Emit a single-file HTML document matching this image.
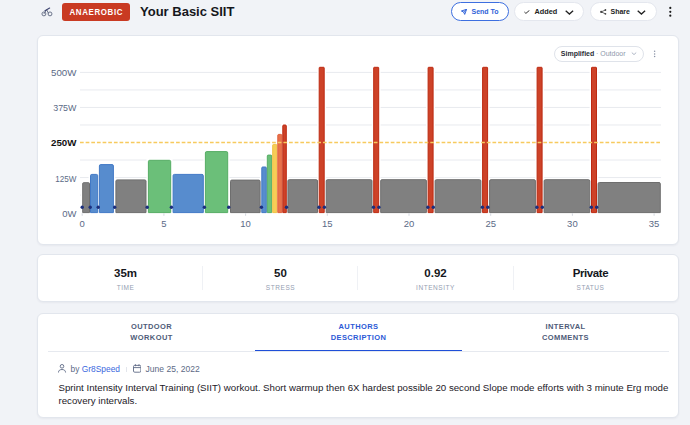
<!DOCTYPE html>
<html><head><meta charset="utf-8">
<style>
*{box-sizing:border-box;margin:0;padding:0}
html,body{width:690px;height:425px;overflow:hidden}
body{background:#f1f3f7;font-family:"Liberation Sans",sans-serif;position:relative;color:#1a1d24}
.abs{position:absolute}
.card{position:absolute;background:#fff;border:1px solid #e2e6ed;border-radius:6px;box-shadow:0 1px 2px rgba(30,40,70,.05)}
.badge{left:62px;top:3px;width:68px;height:18px;background:#c93a22;border-radius:3px;color:#fff;font-weight:bold;font-size:7.9px;letter-spacing:.65px;text-align:center;line-height:20.2px;padding-left:.65px}
.title{left:140px;top:4px;font-size:13px;font-weight:bold;color:#15171c;line-height:16px}
.btn{position:absolute;top:2px;height:19px;border-radius:10px;background:#fff;border:1px solid #e4e7ee;font-weight:bold;font-size:7px;line-height:17px;color:#222}
.btn span{position:absolute;top:0}
.send{left:451px;width:58px;border-color:#3d6fe0;color:#2f62d8}
.added{left:514px;width:70px}
.share{left:590px;width:67px}
.stat{position:absolute;top:0;width:155px;text-align:center}
.stat .v{position:absolute;left:0;right:0;top:11.5px;font-size:11.5px;font-weight:bold;color:#15171c}
.stat .l{position:absolute;left:0;right:0;top:29px;font-size:6.5px;letter-spacing:.55px;color:#959eb2}
.div{position:absolute;top:11px;width:1px;height:24px;background:#eff1f5}
.tab{position:absolute;top:0;width:207px;text-align:center;font-size:7.5px;font-weight:bold;letter-spacing:.4px;line-height:11px;color:#4e5b78;padding-top:6.8px}
</style></head><body>

<!-- header -->
<svg class="abs" style="left:40px;top:6px" width="14" height="12" viewBox="0 0 14 12">
 <g fill="none" stroke="#646d85" stroke-width="0.95">
  <circle cx="3.9" cy="7.9" r="1.95"/><circle cx="10" cy="7.9" r="1.95"/>
  <path d="M6.6 3.6 L8.6 7.6 M3.9 7.9 L6.3 4.1"/>
 </g>
 <path d="M5.0 4.7 L9.6 2.1" stroke="#3e4470" stroke-width="1.2" stroke-linecap="round" fill="none"/>
</svg>
<div class="abs badge"><span style="display:inline-block;transform:scaleY(1.13);transform-origin:50% 58%">ANAEROBIC</span></div>
<div class="abs title">Your Basic SIIT</div>

<div class="btn send">
 <svg class="abs" style="left:8.5px;top:5.6px" width="7" height="6" viewBox="0 0 7 6"><path d="M0.4 2.0 L5.6 0.3 L3.7 5.4 L2.7 3.0 Z M2.7 3.0 L5.6 0.3" fill="none" stroke="#2f62d8" stroke-width="1" stroke-linejoin="round"/></svg>
 <span style="left:19.5px">Send To</span>
</div>
<div class="btn added">
 <svg class="abs" style="left:9.2px;top:6.6px" width="6" height="4" viewBox="0 0 6 4"><path d="M0.4 2.0 L1.9 3.4 L5.4 0.4" fill="none" stroke="#333" stroke-width="1"/></svg>
 <span style="left:19.5px;font-size:7.3px">Added</span>
 <svg class="abs" style="left:49.5px;top:6.7px" width="9" height="5" viewBox="0 0 9 5"><path d="M0.7 0.7 L4.4 4.1 L8.1 0.7" fill="none" stroke="#222" stroke-width="1.3"/></svg>
</div>
<div class="btn share">
 <svg class="abs" style="left:8.5px;top:5.6px" width="7" height="6" viewBox="0 0 7 6"><g fill="#444"><circle cx="1.2" cy="2.9" r="1.1"/><circle cx="5.4" cy="1" r="0.9"/><circle cx="5.4" cy="4.8" r="0.9"/></g><path d="M1.2 2.9 L5.4 1 M1.2 2.9 L5.4 4.8" stroke="#444" stroke-width=".8"/></svg>
 <span style="left:19.5px">Share</span>
 <svg class="abs" style="left:46.2px;top:6.7px" width="9" height="5" viewBox="0 0 9 5"><path d="M0.7 0.7 L4.4 4.1 L8.1 0.7" fill="none" stroke="#222" stroke-width="1.3"/></svg>
</div>
<svg class="abs" style="left:668px;top:6px" width="4" height="11" viewBox="0 0 4 11"><g fill="#1a1a1a"><circle cx="2.3" cy="1.9" r="1.1"/><circle cx="2.3" cy="5.8" r="1.1"/><circle cx="2.3" cy="9.7" r="1.1"/></g></svg>

<!-- chart card -->
<div class="card" style="left:37px;top:35px;width:642px;height:210px"></div>
<svg class="abs" style="left:0;top:0" width="690" height="425" viewBox="0 0 690 425" id="chart">
<line x1="80" x2="661" y1="72.4" y2="72.4" stroke="#e8eaef" stroke-width="1"/>
<line x1="80" x2="661" y1="89.92500000000001" y2="89.92500000000001" stroke="#e8eaef" stroke-width="1"/>
<line x1="80" x2="661" y1="107.45" y2="107.45" stroke="#e8eaef" stroke-width="1"/>
<line x1="80" x2="661" y1="124.975" y2="124.975" stroke="#e8eaef" stroke-width="1"/>
<line x1="80" x2="661" y1="160.025" y2="160.025" stroke="#e8eaef" stroke-width="1"/>
<line x1="80" x2="661" y1="177.55" y2="177.55" stroke="#e8eaef" stroke-width="1"/>
<line x1="80" x2="661" y1="195.075" y2="195.075" stroke="#e8eaef" stroke-width="1"/>
<rect x="80.8" y="180.8" width="10.6" height="31.8" fill="#fff"/>
<rect x="88.6" y="172.5" width="11.0" height="40.1" fill="#fff"/>
<rect x="97.5" y="162.7" width="17.8" height="49.9" fill="#fff"/>
<rect x="114.0" y="178.0" width="33.9" height="34.6" fill="#fff"/>
<rect x="146.5" y="158.4" width="26.1" height="54.2" fill="#fff"/>
<rect x="171.2" y="172.5" width="34.0" height="40.1" fill="#fff"/>
<rect x="203.5" y="149.7" width="26.1" height="62.9" fill="#fff"/>
<rect x="228.6" y="178.2" width="33.4" height="34.4" fill="#fff"/>
<rect x="259.9" y="165.1" width="8.3" height="47.5" fill="#fff"/>
<rect x="265.4" y="153.2" width="8.2" height="59.4" fill="#fff"/>
<rect x="270.8" y="142.5" width="7.9" height="70.1" fill="#fff"/>
<rect x="275.9" y="132.5" width="7.8" height="80.1" fill="#fff"/>
<rect x="280.9" y="123.1" width="7.3" height="89.5" fill="#fff"/>
<rect x="286.0" y="177.8" width="33.4" height="34.8" fill="#fff"/>
<rect x="317.3" y="65.4" width="8.8" height="147.2" fill="#fff"/>
<rect x="324.3" y="177.8" width="49.6" height="34.8" fill="#fff"/>
<rect x="371.8" y="65.4" width="8.8" height="147.2" fill="#fff"/>
<rect x="378.8" y="177.8" width="49.5" height="34.8" fill="#fff"/>
<rect x="426.2" y="65.4" width="8.8" height="147.2" fill="#fff"/>
<rect x="433.2" y="177.8" width="49.6" height="34.8" fill="#fff"/>
<rect x="480.7" y="65.4" width="8.8" height="147.2" fill="#fff"/>
<rect x="487.7" y="177.8" width="49.6" height="34.8" fill="#fff"/>
<rect x="535.2" y="65.4" width="8.8" height="147.2" fill="#fff"/>
<rect x="542.2" y="177.8" width="49.5" height="34.8" fill="#fff"/>
<rect x="589.6" y="65.4" width="8.8" height="147.2" fill="#fff"/>
<rect x="596.2" y="180.6" width="66.0" height="32.0" fill="#fff"/>
<path d="M82.70 212.6 V183.60 Q82.70 182.70 83.60 182.70 H88.60 Q89.50 182.70 89.50 183.60 V212.6 Z" fill="#808080" stroke="#6e6e6e" stroke-width="1"/>
<path d="M90.50 212.6 V175.70 Q90.50 174.40 91.80 174.40 H96.40 Q97.70 174.40 97.70 175.70 V212.6 Z" fill="#578cce" stroke="#4279c6" stroke-width="1"/>
<path d="M99.40 212.6 V165.90 Q99.40 164.60 100.70 164.60 H112.10 Q113.40 164.60 113.40 165.90 V212.6 Z" fill="#578cce" stroke="#4279c6" stroke-width="1"/>
<path d="M115.90 212.6 V181.20 Q115.90 179.90 117.20 179.90 H144.70 Q146.00 179.90 146.00 181.20 V212.6 Z" fill="#808080" stroke="#6e6e6e" stroke-width="1"/>
<path d="M148.40 212.6 V161.60 Q148.40 160.30 149.70 160.30 H169.40 Q170.70 160.30 170.70 161.60 V212.6 Z" fill="#6bbf79" stroke="#55ad64" stroke-width="1"/>
<path d="M173.10 212.6 V175.70 Q173.10 174.40 174.40 174.40 H202.00 Q203.30 174.40 203.30 175.70 V212.6 Z" fill="#578cce" stroke="#4279c6" stroke-width="1"/>
<path d="M205.40 212.6 V152.90 Q205.40 151.60 206.70 151.60 H226.40 Q227.70 151.60 227.70 152.90 V212.6 Z" fill="#6bbf79" stroke="#55ad64" stroke-width="1"/>
<path d="M230.50 212.6 V181.40 Q230.50 180.10 231.80 180.10 H258.80 Q260.10 180.10 260.10 181.40 V212.6 Z" fill="#808080" stroke="#6e6e6e" stroke-width="1"/>
<path d="M261.80 212.6 V167.90 Q261.80 167.00 262.70 167.00 H265.40 Q266.30 167.00 266.30 167.90 V212.6 Z" fill="#578cce" stroke="#4279c6" stroke-width="1"/>
<path d="M267.30 212.6 V156.00 Q267.30 155.10 268.20 155.10 H270.80 Q271.70 155.10 271.70 156.00 V212.6 Z" fill="#6bbf79" stroke="#55ad64" stroke-width="1"/>
<path d="M272.70 212.6 V145.30 Q272.70 144.40 273.60 144.40 H275.90 Q276.80 144.40 276.80 145.30 V212.6 Z" fill="#f7cd57" stroke="#f0c243" stroke-width="1"/>
<path d="M277.80 212.6 V135.30 Q277.80 134.40 278.70 134.40 H280.90 Q281.80 134.40 281.80 135.30 V212.6 Z" fill="#e8704a" stroke="#e0603a" stroke-width="1"/>
<path d="M282.80 212.6 V125.90 Q282.80 125.00 283.70 125.00 H285.40 Q286.30 125.00 286.30 125.90 V212.6 Z" fill="#cd4228" stroke="#bd2a12" stroke-width="1"/>
<path d="M287.90 212.6 V181.00 Q287.90 179.70 289.20 179.70 H316.20 Q317.50 179.70 317.50 181.00 V212.6 Z" fill="#808080" stroke="#6e6e6e" stroke-width="1"/>
<path d="M319.20 212.6 V67.90 Q319.20 67.30 319.80 67.30 H323.60 Q324.20 67.30 324.20 67.90 V212.6 Z" fill="#cd4228" stroke="#bd2a12" stroke-width="1"/>
<path d="M326.20 212.6 V181.00 Q326.20 179.70 327.50 179.70 H370.70 Q372.00 179.70 372.00 181.00 V212.6 Z" fill="#808080" stroke="#6e6e6e" stroke-width="1"/>
<path d="M373.70 212.6 V67.90 Q373.70 67.30 374.30 67.30 H378.10 Q378.70 67.30 378.70 67.90 V212.6 Z" fill="#cd4228" stroke="#bd2a12" stroke-width="1"/>
<path d="M380.70 212.6 V181.00 Q380.70 179.70 382.00 179.70 H425.10 Q426.40 179.70 426.40 181.00 V212.6 Z" fill="#808080" stroke="#6e6e6e" stroke-width="1"/>
<path d="M428.10 212.6 V67.90 Q428.10 67.30 428.70 67.30 H432.50 Q433.10 67.30 433.10 67.90 V212.6 Z" fill="#cd4228" stroke="#bd2a12" stroke-width="1"/>
<path d="M435.10 212.6 V181.00 Q435.10 179.70 436.40 179.70 H479.60 Q480.90 179.70 480.90 181.00 V212.6 Z" fill="#808080" stroke="#6e6e6e" stroke-width="1"/>
<path d="M482.60 212.6 V67.90 Q482.60 67.30 483.20 67.30 H487.00 Q487.60 67.30 487.60 67.90 V212.6 Z" fill="#cd4228" stroke="#bd2a12" stroke-width="1"/>
<path d="M489.60 212.6 V181.00 Q489.60 179.70 490.90 179.70 H534.10 Q535.40 179.70 535.40 181.00 V212.6 Z" fill="#808080" stroke="#6e6e6e" stroke-width="1"/>
<path d="M537.10 212.6 V67.90 Q537.10 67.30 537.70 67.30 H541.50 Q542.10 67.30 542.10 67.90 V212.6 Z" fill="#cd4228" stroke="#bd2a12" stroke-width="1"/>
<path d="M544.10 212.6 V181.00 Q544.10 179.70 545.40 179.70 H588.50 Q589.80 179.70 589.80 181.00 V212.6 Z" fill="#808080" stroke="#6e6e6e" stroke-width="1"/>
<path d="M591.50 212.6 V67.90 Q591.50 67.30 592.10 67.30 H595.90 Q596.50 67.30 596.50 67.90 V212.6 Z" fill="#cd4228" stroke="#bd2a12" stroke-width="1"/>
<path d="M598.10 212.6 V183.80 Q598.10 182.50 599.40 182.50 H659.00 Q660.30 182.50 660.30 183.80 V212.6 Z" fill="#808080" stroke="#6e6e6e" stroke-width="1"/>
<line x1="80" x2="661" y1="142.5" y2="142.5" stroke="#f7ca5e" stroke-width="1.4" stroke-dasharray="3.7 1.95"/>
<circle cx="82.2" cy="207.3" r="1.7" fill="#1c2f7e"/>
<circle cx="90.2" cy="207.3" r="1.7" fill="#1c2f7e"/>
<circle cx="98.2" cy="207.3" r="1.7" fill="#1c2f7e"/>
<circle cx="114.7" cy="207.3" r="1.7" fill="#1c2f7e"/>
<circle cx="147.2" cy="207.3" r="1.7" fill="#1c2f7e"/>
<circle cx="171.4" cy="207.3" r="1.7" fill="#1c2f7e"/>
<circle cx="204.4" cy="207.3" r="1.7" fill="#1c2f7e"/>
<circle cx="228.7" cy="207.3" r="1.7" fill="#1c2f7e"/>
<circle cx="261.4" cy="207.3" r="1.7" fill="#1c2f7e"/>
<circle cx="286.5" cy="207.3" r="1.7" fill="#1c2f7e"/>
<circle cx="319.0" cy="207.3" r="1.7" fill="#1c2f7e"/>
<circle cx="324.4" cy="207.3" r="1.7" fill="#1c2f7e"/>
<circle cx="373.5" cy="207.3" r="1.7" fill="#1c2f7e"/>
<circle cx="378.9" cy="207.3" r="1.7" fill="#1c2f7e"/>
<circle cx="427.90000000000003" cy="207.3" r="1.7" fill="#1c2f7e"/>
<circle cx="433.3" cy="207.3" r="1.7" fill="#1c2f7e"/>
<circle cx="482.40000000000003" cy="207.3" r="1.7" fill="#1c2f7e"/>
<circle cx="487.8" cy="207.3" r="1.7" fill="#1c2f7e"/>
<circle cx="536.9" cy="207.3" r="1.7" fill="#1c2f7e"/>
<circle cx="542.3000000000001" cy="207.3" r="1.7" fill="#1c2f7e"/>
<circle cx="591.3" cy="207.3" r="1.7" fill="#1c2f7e"/>
<circle cx="596.7" cy="207.3" r="1.7" fill="#1c2f7e"/>
<line x1="82.2" x2="82.2" y1="213.3" y2="215.8" stroke="#c9ced8" stroke-width="0.8"/>
<text x="82.2" y="226.8" text-anchor="middle" font-size="9.5" fill="#5b6a86">0</text>
<line x1="163.9" x2="163.9" y1="213.3" y2="215.8" stroke="#c9ced8" stroke-width="0.8"/>
<text x="163.9" y="226.8" text-anchor="middle" font-size="9.5" fill="#5b6a86">5</text>
<line x1="245.6" x2="245.6" y1="213.3" y2="215.8" stroke="#c9ced8" stroke-width="0.8"/>
<text x="245.6" y="226.8" text-anchor="middle" font-size="9.5" fill="#5b6a86">10</text>
<line x1="327.3" x2="327.3" y1="213.3" y2="215.8" stroke="#c9ced8" stroke-width="0.8"/>
<text x="327.3" y="226.8" text-anchor="middle" font-size="9.5" fill="#5b6a86">15</text>
<line x1="409.0" x2="409.0" y1="213.3" y2="215.8" stroke="#c9ced8" stroke-width="0.8"/>
<text x="409.0" y="226.8" text-anchor="middle" font-size="9.5" fill="#5b6a86">20</text>
<line x1="490.7" x2="490.7" y1="213.3" y2="215.8" stroke="#c9ced8" stroke-width="0.8"/>
<text x="490.7" y="226.8" text-anchor="middle" font-size="9.5" fill="#5b6a86">25</text>
<line x1="572.4" x2="572.4" y1="213.3" y2="215.8" stroke="#c9ced8" stroke-width="0.8"/>
<text x="572.4" y="226.8" text-anchor="middle" font-size="9.5" fill="#5b6a86">30</text>
<line x1="654.1" x2="654.1" y1="213.3" y2="215.8" stroke="#c9ced8" stroke-width="0.8"/>
<text x="654.1" y="226.8" text-anchor="middle" font-size="9.5" fill="#5b6a86">35</text>
<text x="51.00" y="75.50" textLength="25.4" lengthAdjust="spacingAndGlyphs" font-size="9.7" fill="#5b6a86">500W</text>
<text x="53.20" y="110.55" textLength="23.2" lengthAdjust="spacingAndGlyphs" font-size="9.7" fill="#5b6a86">375W</text>
<text x="51.00" y="145.60" textLength="25.4" lengthAdjust="spacingAndGlyphs" font-size="9.7" font-weight="bold" fill="#111">250W</text>
<text x="55.20" y="181.55" textLength="21.2" lengthAdjust="spacingAndGlyphs" font-size="9.7" fill="#5b6a86">125W</text>
<text x="62.20" y="216.60" textLength="14.2" lengthAdjust="spacingAndGlyphs" font-size="9.7" fill="#5b6a86">0W</text>
<rect x="554.5" y="46.5" width="89" height="15" rx="7.5" fill="#fff" stroke="#dfe3ea"/>
<text x="560.8" y="56.1" font-size="7" font-weight="bold" fill="#2a2d35">Simplified</text>
<text x="596" y="56.1" font-size="7" fill="#8e97ab">· Outdoor</text>
<path d="M631.8 52.6 L634 54.6 L636.2 52.6" fill="none" stroke="#9aa3b6" stroke-width="0.8"/>
<circle cx="654.6" cy="51.3" r="0.75" fill="#8a93a6"/>
<circle cx="654.6" cy="53.9" r="0.75" fill="#8a93a6"/>
<circle cx="654.6" cy="56.5" r="0.75" fill="#8a93a6"/>
</svg>

<!-- stats card -->
<div class="card" style="left:37px;top:254px;width:642px;height:48px">
 <div class="stat" style="left:10px"><div class="v">35m</div><div class="l">TIME</div></div>
 <div class="div" style="left:164.3px"></div>
 <div class="stat" style="left:165px"><div class="v">50</div><div class="l">STRESS</div></div>
 <div class="div" style="left:319.2px"></div>
 <div class="stat" style="left:320px"><div class="v">0.92</div><div class="l">INTENSITY</div></div>
 <div class="div" style="left:474.5px"></div>
 <div class="stat" style="left:475px"><div class="v" style="letter-spacing:-.4px">Private</div><div class="l">STATUS</div></div>
</div>

<!-- tabs card -->
<div class="card" style="left:37px;top:313px;width:642px;height:105px">
 <div class="tab" style="left:10px">OUTDOOR<br>WORKOUT</div>
 <div class="tab" style="left:217px;color:#2b5ad6">AUTHORS<br>DESCRIPTION</div>
 <div class="tab" style="left:424px">INTERVAL<br>COMMENTS</div>
 <div class="abs" style="left:10px;top:37px;width:621px;height:1px;background:#e6e9ef"></div>
 <div class="abs" style="left:217px;top:35.9px;width:207px;height:1.6px;background:#1f4fd8"></div>
 <svg class="abs" style="left:20px;top:50.3px" width="9" height="9" viewBox="0 0 9 9"><g fill="none" stroke="#5d6a86" stroke-width="0.9"><circle cx="4" cy="2.3" r="1.8"/><path d="M0.45 8.5 C0.45 6.4 2 5.5 4 5.5 C6 5.5 7.55 6.4 7.55 8.5"/></g></svg>
 <div class="abs" style="left:32.6px;top:48.9px;font-size:8.4px;line-height:12px;color:#5d6a86;white-space:nowrap">by <span style="color:#3a68de">Gr8Speed</span></div>
 <div class="abs" style="left:88.2px;top:52.8px;width:1px;height:5.5px;background:#e3e6ec"></div>
 <svg class="abs" style="left:94.8px;top:50.2px" width="8.5" height="8.6" viewBox="0 0 8.5 8.6"><g fill="none" stroke="#5d6a86" stroke-width="0.9"><rect x="0.5" y="1.4" width="7.4" height="6.8" rx="1.2"/><path d="M0.5 3.6 H7.9 M2.4 0.2 V2.2 M6 0.2 V2.2"/></g></svg>
 <div class="abs" style="left:107.6px;top:48.9px;font-size:8.55px;line-height:12px;color:#5d6a86;white-space:nowrap">June 25, 2022</div>
 <div class="abs" style="left:20.5px;top:66.8px;width:620px;font-size:9.7px;line-height:13px;color:#1d2027;white-space:nowrap">Sprint Intensity Interval Training (SIIT) workout. Short warmup then 6X hardest possible 20 second Slope mode efforts with 3 minute Erg mode<br>recovery intervals.</div>
</div>
</body></html>
